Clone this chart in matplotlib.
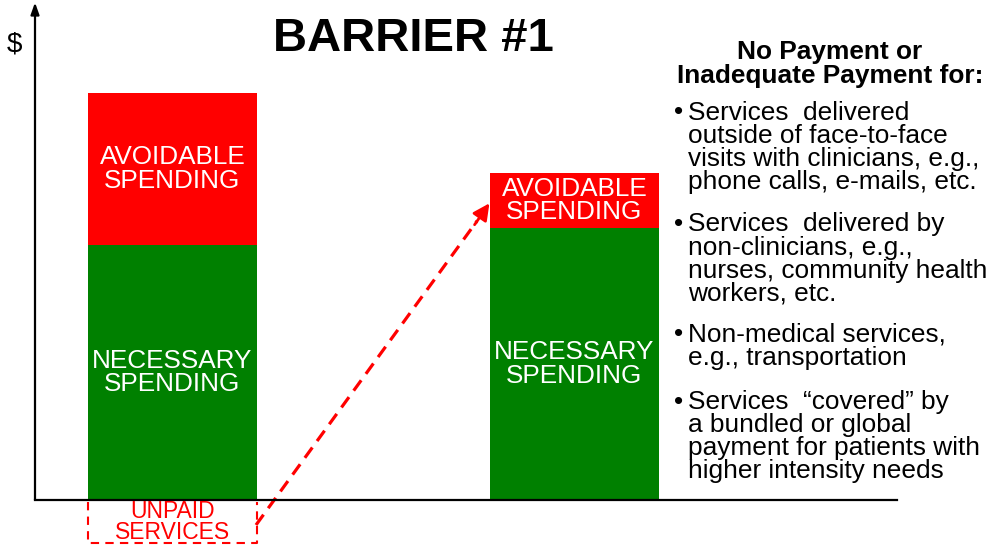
import matplotlib
matplotlib.use("Agg")
import matplotlib.pyplot as plt

plt.rcParams['font.family'] = ['Liberation Sans', 'DejaVu Sans']

# spending levels (arbitrary $ units)
bar_x = [1.375, 5.395]
necessary = [51.0, 54.4]
avoidable = [30.4, 11.0]
unpaid = 8.6
bar_w = 1.69

seg_labels = ["NECESSARY\nSPENDING", "AVOIDABLE\nSPENDING"]
unpaid_label = "UNPAID\nSERVICES"
title = "BARRIER #1"
heading = "No Payment or\nInadequate Payment for:"
bullets = [
    "Services  delivered\noutside of face-to-face\nvisits with clinicians, e.g.,\nphone calls, e-mails, etc.",
    "Services  delivered by\nnon-clinicians, e.g.,\nnurses, community health\nworkers, etc.",
    "Non-medical services,\ne.g., transportation",
    "Services  \u201ccovered\u201d by\na bundled or global\npayment for patients with\nhigher intensity needs",
]
bullet_top = [100.5, 212.5, 322.5, 389.5]

W, H = 990, 548
fig = plt.figure(figsize=(9.9, 5.48), dpi=100)
ax = fig.add_axes([35 / W, (H - 500) / H, 862 / W, 495 / H])
ax.set_xlim(0, 8.62)
ax.set_ylim(0, 99)
ax.axis("off")

RED = "#FF0000"
GREEN = "#008000"

ax.bar(bar_x, necessary, width=bar_w, color=GREEN)
ax.bar(bar_x, avoidable, width=bar_w, bottom=necessary, color=RED)

for x, n, a in zip(bar_x, necessary, avoidable):
    ax.text(x, n / 2, seg_labels[0], color="white", ha="center", va="center",
            fontsize=18.8, linespacing=0.98)
    ax.text(x, n + a / 2, seg_labels[1], color="white", ha="center", va="center",
            fontsize=18.8, linespacing=0.98)

# unpaid services dashed box below the axis
x0 = bar_x[0] - bar_w / 2
x1 = bar_x[0] + bar_w / 2
ax.plot([x0, x0, x1, x1], [-0.3, -unpaid, -unpaid, -0.3], color=RED, lw=1.5,
        ls=(0, (4, 3)), clip_on=False)
ax.text(bar_x[0], -unpaid / 2 - 0.1, unpaid_label, color=RED, ha="center",
        va="center", fontsize=16.5, linespacing=0.93)

# dashed arrow from unpaid services up to the second bar
sx, sy = x1 - 0.01, -5.0
tx, ty = bar_x[1] - bar_w / 2 + 0.01, 59.8
ax.plot([sx, tx - 0.14], [sy, ty - 4.0], color=RED, lw=2.3, ls=(0, (4, 2.5)),
        clip_on=False)
ax.annotate("", xy=(tx, ty), xytext=(tx - 0.18, ty - 5.2),
            arrowprops=dict(arrowstyle="-|>,head_length=1.0,head_width=0.5",
                            color=RED, lw=2), annotation_clip=False)

# axes with arrow on y
ax.plot([0, 8.62], [0, 0], color="black", lw=1.6, clip_on=False)
ax.annotate("", xy=(0, 99.5), xytext=(0, 0),
            arrowprops=dict(arrowstyle="-|>,head_length=0.7,head_width=0.25",
                            color="black", lw=1.6, shrinkA=0, shrinkB=0),
            annotation_clip=False)

fig.text(14 / W, 1 - 45 / H, "$", fontsize=20, ha="center", va="center")
fig.text(413 / W, 1 - 39 / H, title, fontsize=34, fontweight="bold",
         ha="center", va="center")
fig.text(830 / W, 1 - 64 / H, heading, fontsize=18.9, fontweight="bold",
         ha="center", va="center", linespacing=0.98)

for txt, top in zip(bullets, bullet_top):
    fig.text(674 / W, 1 - top / H, "\u2022", fontsize=18.9, ha="left", va="top")
    fig.text(688 / W, 1 - top / H, txt, fontsize=18.9, ha="left", va="top",
             linespacing=0.95)

fig.savefig("out.png", dpi=100)
